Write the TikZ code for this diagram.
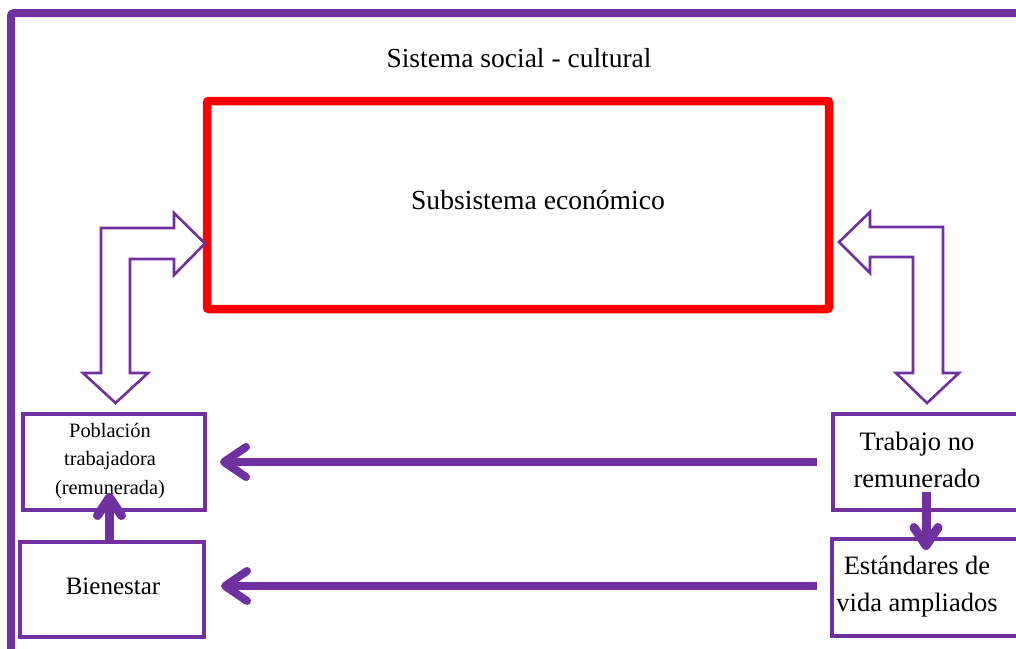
\documentclass[tikz,border=0pt]{standalone}
\usepackage{fontspec}
\setmainfont{Liberation Serif}
\usetikzlibrary{arrows.meta}
\definecolor{vio}{HTML}{7030A0}
\definecolor{rojo}{HTML}{FF0000}
\tikzset{
  box/.style={draw=vio, line width=3.2pt, inner sep=0pt, outer sep=0pt, anchor=north west},
  lbl/.style={align=center, inner sep=0pt, text=black},
  hollow/.style={draw=vio, line width=2.6pt, fill=white, line join=miter},
  thickarr/.style={draw=vio, line width=8pt, -{Straight Barb[round, length=22pt, width=30pt]}},
  vertarr/.style={draw=vio, line width=9pt, -{Straight Barb[round, length=18pt, width=24pt]}},
}
\begin{document}
\begin{tikzpicture}[x=1pt, y=-1pt]
\useasboundingbox (0,0) rectangle (1016,648);
\clip (0,0) rectangle (1016,648);
% outer frame
\draw[vio, line width=8pt, rounded corners=3pt] (11,13) rectangle (1060,720);
\node[lbl, font=\fontsize{27.5}{30}\selectfont] (title) at (519,58) {Sistema social - cultural};
% economic subsystem
\node[draw=rojo, line width=8.5pt, rounded corners=2pt, minimum width=622pt, minimum height=208pt, anchor=north west, inner sep=0pt, outer sep=0pt] (eco) at (207,101) {};
\node[lbl, font=\fontsize{27.6}{30}\selectfont] (ecot) at (538,200) {Subsistema económico};
% hollow bent arrows
\draw[hollow] (101,373) -- (101,228) -- (174,228) -- (174,213) -- (205,243.5) -- (174,275) -- (174,259) -- (130,259) -- (130,373) -- (148,373) -- (115.5,403) -- (83,373) -- cycle;
\draw[hollow] (839,242) -- (870,212) -- (870,227) -- (943,227) -- (943,373) -- (959,373) -- (927,403) -- (896,373) -- (913,373) -- (913,257) -- (870,257) -- (870,273) -- cycle;
% boxes
\node[box, minimum width=182pt, minimum height=96pt] (pob) at (23,414) {};
\node[lbl, font=\fontsize{20.4}{28.5}\selectfont] (pobt) at (110,461) {Población\\trabajadora\\(remunerada)};
\node[box, minimum width=184pt, minimum height=95pt] (bien) at (20,542) {};
\node[lbl, font=\fontsize{25}{30}\selectfont] (bient) at (113,586) {Bienestar};
\node[box, minimum width=220pt, minimum height=96pt] (trab) at (833,414) {};
\node[lbl, font=\fontsize{26.6}{37}\selectfont] (trabt) at (917,460) {Trabajo no\\remunerado};
\node[box, minimum width=220pt, minimum height=97pt] (est) at (832,539) {};
\node[lbl, font=\fontsize{26.5}{37}\selectfont] (estt) at (917,587) {Estándares de\\vida ampliados};
% connectors
\draw[thickarr, shorten <=16pt, shorten >=15pt] (trab.west) -- (trab.west -| pob.east);
\draw[thickarr, shorten <=15pt, shorten >=17pt] ([yshift=1.5pt]est.west) -- ([yshift=1.5pt]est.west -| bien.east);
\draw[vertarr] ([xshift=93pt,yshift=18pt]trab.south west) -- ([xshift=94pt,yshift=-11pt]est.north west);
\draw[vertarr] ([xshift=89.5pt]bien.north west) -- ([xshift=86.5pt,yshift=17pt]pob.south west);
\end{tikzpicture}
\end{document}
